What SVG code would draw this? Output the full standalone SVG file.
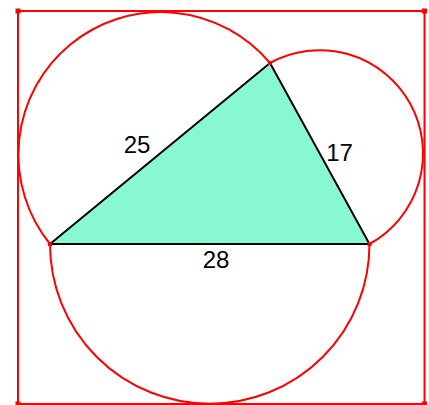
<svg xmlns="http://www.w3.org/2000/svg" width="429" height="405" viewBox="0 0 429 405">
<style>
.red{fill:none;stroke:#ff0000;stroke-width:2}
.pt{fill:#ff0000}
.lbl{font-family:"Liberation Sans",Arial,sans-serif;font-size:24px;fill:#000;text-anchor:middle}
</style>
<rect width="429" height="405" fill="#fff"/>
<g id="frame">
<rect class="red" x="18" y="11" width="406.5" height="393"/>
<rect class="pt" x="15.5" y="8.5" width="5" height="5"/>
<rect class="pt" x="422" y="8.5" width="5" height="5"/>
<rect class="pt" x="15.5" y="401.5" width="5" height="5"/>
<rect class="pt" x="422" y="401.5" width="5" height="5"/>
</g>
<g id="triangle">
<polygon points="50,244 369.5,244 270,63" fill="#88f8d0" stroke="#000" stroke-width="2" stroke-linejoin="miter"/>
</g>
<g id="connectors">
<path class="red" d="M50,244 A142.45,142.45 0 0 1 270,63"/>
<path class="red" d="M270,63 A103.25,103.25 0 0 1 369.5,244"/>
<path class="red" d="M369.5,244 A159.75,159.75 0 0 1 50,244"/>
</g>
<g id="vertices">
<rect class="pt" x="48" y="242" width="4" height="4"/>
<rect class="pt" x="367.5" y="242" width="4" height="4"/>
<rect class="pt" x="268" y="61" width="4" height="4"/>
</g>
<g id="labels">
<text class="lbl" x="137" y="153">25</text>
<text class="lbl" x="339.5" y="161">17</text>
<text class="lbl" x="216" y="268">28</text>
</g>
</svg>
